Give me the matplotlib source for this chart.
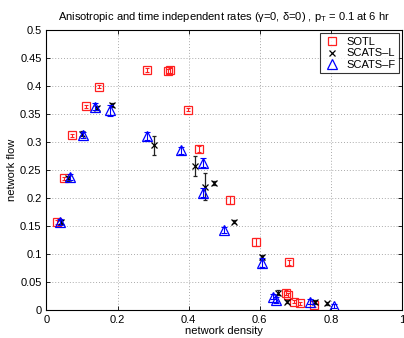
import matplotlib
matplotlib.use('Agg')
import matplotlib.pyplot as plt
from matplotlib.ticker import FuncFormatter

plt.rcParams['font.family'] = ['Liberation Sans', 'DejaVu Sans']

# SOTL
sotl_x = [0.030, 0.050, 0.073, 0.110, 0.149, 0.283, 0.342, 0.347, 0.399, 0.430,
          0.517, 0.590, 0.682, 0.673, 0.678, 0.696, 0.712, 0.753]
sotl_y = [0.157, 0.235, 0.312, 0.364, 0.399, 0.429, 0.427, 0.428, 0.358, 0.288,
          0.196, 0.122, 0.085, 0.031, 0.027, 0.015, 0.012, 0.009]
sotl_e = [0.003, 0.003, 0.003, 0.003, 0.003, 0.003, 0.004, 0.004, 0.003, 0.005,
          0.007, 0.007, 0.005, 0.004, 0.004, 0.003, 0.003, 0.003]

# SCATS-L
sl_x = [0.041, 0.060, 0.101, 0.141, 0.185, 0.302, 0.418, 0.446, 0.472, 0.528,
        0.607, 0.651, 0.677, 0.755, 0.789]
sl_y = [0.157, 0.235, 0.315, 0.361, 0.366, 0.294, 0.257, 0.220, 0.227, 0.158,
        0.094, 0.031, 0.015, 0.014, 0.012]
sl_e = [0.004, 0.004, 0.004, 0.004, 0.004, 0.017, 0.018, 0.024, 0.004, 0.003,
        0.005, 0.004, 0.003, 0.003, 0.003]

# SCATS-F
sf_x = [0.039, 0.065, 0.104, 0.137, 0.178, 0.284, 0.378, 0.441, 0.440, 0.498,
        0.607, 0.637, 0.646, 0.740, 0.808]
sf_y = [0.157, 0.237, 0.313, 0.363, 0.357, 0.311, 0.285, 0.263, 0.209, 0.143,
        0.084, 0.024, 0.018, 0.015, 0.007]
sf_e = [0.005, 0.005, 0.005, 0.006, 0.010, 0.007, 0.007, 0.008, 0.008, 0.006,
        0.008, 0.005, 0.005, 0.004, 0.003]

fig = plt.figure(figsize=(4.04, 3.38), dpi=100)
ax = fig.add_axes([0.115, 0.083, 0.88, 0.828])

ax.errorbar(sotl_x, sotl_y, yerr=sotl_e, fmt='none', ecolor='#ff2020', elinewidth=0.8, capsize=1.5, capthick=0.8)
h1, = ax.plot(sotl_x, sotl_y, 's', ms=6, mfc='none', mec='#ff2020', mew=0.9, label='SOTL')

ax.errorbar(sl_x, sl_y, yerr=sl_e, fmt='none', ecolor='#222222', elinewidth=0.9, capsize=1.5, capthick=0.9)
h2, = ax.plot(sl_x, sl_y, 'x', ms=5, mec='black', mew=0.9, label='SCATS\u2013L')

ax.errorbar(sf_x, sf_y, yerr=sf_e, fmt='none', ecolor='blue', elinewidth=0.8, capsize=2, capthick=0.8)
h3, = ax.plot(sf_x, sf_y, '^', ms=7.5, mfc='none', mec='blue', mew=0.9, label='SCATS\u2013F')

ax.set_xlim(0, 1)
ax.set_ylim(0, 0.5)
ax.set_xticks([0, 0.2, 0.4, 0.6, 0.8, 1])
ax.set_yticks([i * 0.05 for i in range(11)])
fmt = FuncFormatter(lambda v, p: '%g' % round(v, 2))
ax.xaxis.set_major_formatter(fmt)
ax.yaxis.set_major_formatter(fmt)
ax.tick_params(direction='in', top=True, right=True, labelsize=8, length=3, width=0.6)
ax.grid(True, linestyle=(0, (1, 2)), color='#aaaaaa', linewidth=0.7)
for s in ax.spines.values():
    s.set_linewidth(0.8)

ax.set_xlabel('network density', fontsize=8, labelpad=1)
ax.set_ylabel('network flow', fontsize=8, labelpad=2)
ax.set_title(r'Anisotropic and time independent rates ($\mathregular{\gamma}$=0, $\mathregular{\delta}$=0) , p$_\mathregular{T}$ = 0.1 at 6 hr',
             fontsize=8, pad=7)

leg = ax.legend(handles=[h1, h2, h3], loc='upper right', fontsize=8, frameon=True, fancybox=False,
                edgecolor='black', borderaxespad=0.3, handletextpad=0.5, labelspacing=0.15,
                borderpad=0.3, handlelength=1.6)
leg.get_frame().set_linewidth(0.8)

fig.savefig('out.png', dpi=100)
